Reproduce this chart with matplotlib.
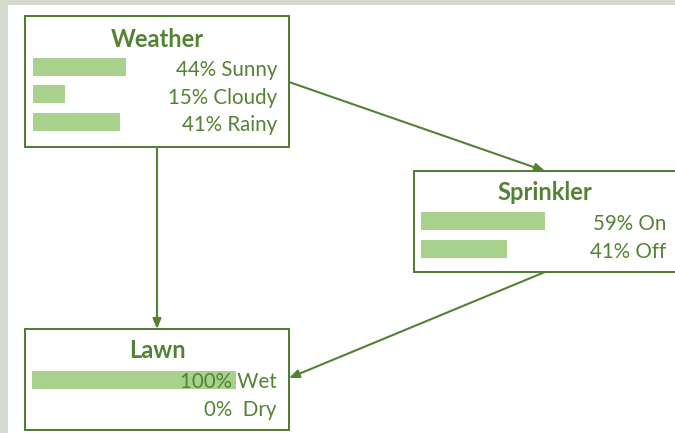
import matplotlib
matplotlib.use("Agg")
import matplotlib.pyplot as plt
from matplotlib.patches import Rectangle

# ---- data ----
weather_states = ["Sunny", "Cloudy", "Rainy"]
weather_probs = [44, 15, 41]
sprinkler_states = ["On", "Off"]
sprinkler_probs = [59, 41]
lawn_states = ["Wet", "Dry"]
lawn_probs = [100, 0]
node_names = ["Weather", "Sprinkler", "Lawn"]
edges = [("Weather", "Sprinkler"), ("Weather", "Lawn"), ("Sprinkler", "Lawn")]

W, H = 675, 433
fig = plt.figure(figsize=(W / 100, H / 100), dpi=100)
ax = fig.add_axes([0, 0, 1, 1])
ax.set_xlim(0, W)
ax.set_ylim(H, 0)
ax.axis("off")

FONT = ["Lato", "DejaVu Sans"]
TEXT_C = "#548235"
EDGE_C = "#4e7a32"
BAR_C = "#a9d18e"
BG_C = "#d5dbcf"

# background frame
ax.add_patch(Rectangle((0, 0), W, H, facecolor=BG_C, edgecolor="none", zorder=0))
ax.add_patch(Rectangle((7.5, 4.5), W, H, facecolor="white", edgecolor="none", zorder=0.5))

layout = {
    "Weather": dict(box=(25, 16, 289, 147), title_base=47, row0=66.5, step=27.5,
                    off=9.5, bar_x=33, full=211, label_x=277),
    "Sprinkler": dict(box=(414, 171, 690, 272), title_base=200, row0=221, step=28,
                      off=9, bar_x=421, full=210, label_x=666),
    "Lawn": dict(box=(25, 329, 289, 430), title_base=358.5, row0=380, step=28,
                 off=8.5, bar_x=32, full=204, label_x=277),
}
states = {"Weather": (weather_states, weather_probs),
          "Sprinkler": (sprinkler_states, sprinkler_probs),
          "Lawn": (lawn_states, lawn_probs)}

for name in node_names:
    L = layout[name]
    x0, y0, x1, y1 = L["box"]
    ax.add_patch(Rectangle((x0, y0), x1 - x0, y1 - y0, facecolor="white",
                           edgecolor=EDGE_C, linewidth=1.4, zorder=2))
    cx = (x0 + x1) / 2 if name != "Sprinkler" else 545
    ax.text(cx, L["title_base"], name, ha="center", va="baseline",
            fontsize=17, fontweight="bold", color=TEXT_C, family=FONT, zorder=4)
    labels, probs = states[name]
    ys = [L["row0"] + i * L["step"] for i in range(len(labels))]
    ax.barh(ys, [p / 100 * L["full"] for p in probs], left=L["bar_x"], height=18,
            color=BAR_C, edgecolor="none", zorder=3)
    for y, lab, p in zip(ys, labels, probs):
        pct = f"{p}%"
        ax.text(L["label_x"], y + L["off"], f"{pct} {lab}" if p != 0 else f"{pct}  {lab}",
                ha="right", va="baseline", fontsize=14.8, color=TEXT_C,
                family=FONT, zorder=4)

edge_pts = {
    ("Weather", "Sprinkler"): ((289, 82), (545, 171)),
    ("Weather", "Lawn"): ((157, 147), (157, 329)),
    ("Sprinkler", "Lawn"): ((545, 272), (289, 378)),
}
for e in edges:
    (sx, sy), (ex, ey) = edge_pts[e]
    ax.annotate("", xy=(ex, ey), xytext=(sx, sy),
                arrowprops=dict(arrowstyle="-|>,head_length=0.6,head_width=0.25",
                                color=TEXT_C, lw=1.5, shrinkA=0, shrinkB=0),
                zorder=5)

fig.savefig("out.png", dpi=100)
